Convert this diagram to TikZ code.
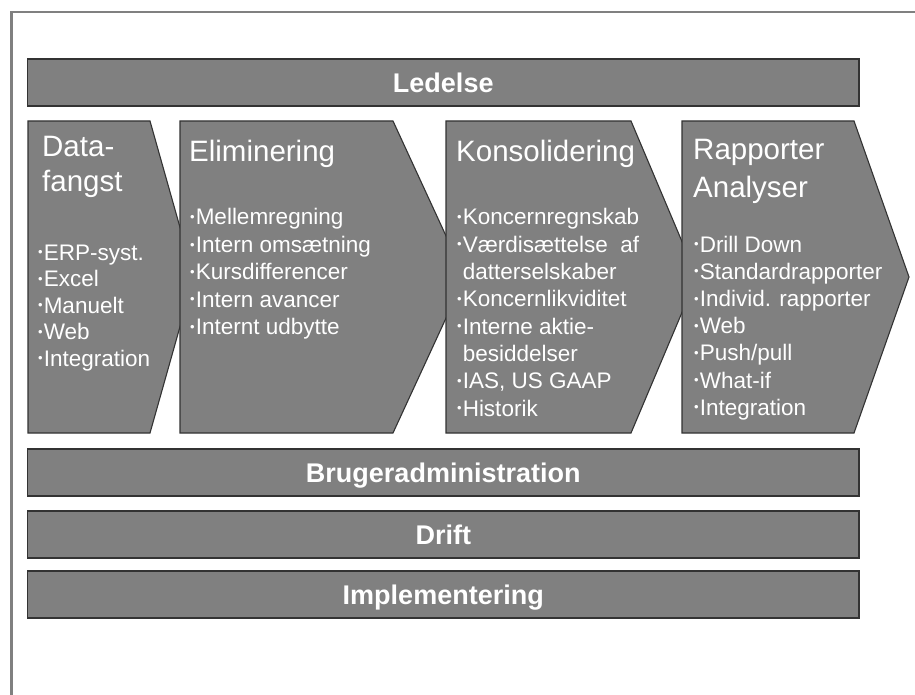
\documentclass[tikz,border=0pt]{standalone}
\usepackage{fontspec}
\setmainfont{Liberation Sans}
\definecolor{boxgray}{HTML}{808080}
\definecolor{edgegray}{HTML}{333333}
\definecolor{framegray}{HTML}{808080}
\newcommand{\bul}{\raisebox{3.4pt}{\fontsize{13pt}{13pt}\selectfont\symbol{"2022}}\hspace{1pt}}
\newcommand{\nobul}{\phantom{\bul}}
\begin{document}
\begin{tikzpicture}[x=1pt,y=-1pt,
  box/.style={fill=boxgray, draw=edgegray, line width=1.1pt, line join=miter},
  bar/.style={box, rectangle, minimum width=831.5pt, minimum height=47pt, inner sep=0pt,
    text=white, text height=19.3pt, text depth=0pt, font=\fontsize{27}{27}\selectfont\bfseries},
  ttl/.style={anchor=base west, inner sep=0pt, text=white, font=\fontsize{29.5}{29.5}\selectfont},
  itm/.style={anchor=base west, inner sep=0pt, text=white, font=\fontsize{22.5}{22.5}\selectfont}]
\useasboundingbox (0,0) rectangle (915,695);
% frame
\draw[framegray, line width=2.3pt] (11.5,695) -- (11.5,12) -- (915,12);
% top bar
\node[bar] (ledelse) at (443.25,82.5) {Ledelse};
% chevron 1
\draw[box] (28,121) -- (150,121) -- (194,277) -- (150,433) -- (28,433) -- cycle;
\node[ttl] (t1a) at (42,156.5) {Data-};
\node[ttl] (t1b) at (42,192) {fangst};
\foreach \t [count=\i from 0] in {ERP-syst.,Excel,Manuelt,Web,Integration}
  \node[itm] (d\i) at (38,260+26.5*\i) {\bul\t};
% chevron 2
\draw[box] (180,121) -- (393,121) -- (465,277) -- (393,433) -- (180,433) -- cycle;
\node[ttl] (t2) at (189,161.5) {Eliminering};
\foreach \t [count=\i from 0] in {Mellemregning,Intern omsætning,Kursdifferencer,Intern avancer,Internt udbytte}
  \node[itm] (e\i) at (190,225+27.4*\i) {\bul\t};
% chevron 3
\draw[box] (446,121) -- (631,121) -- (697,277) -- (631,433) -- (446,433) -- cycle;
\node[ttl] (t3) at (456,161.5) {Konsolidering};
\foreach \t [count=\i from 0] in {\bul Koncernregnskab,\bul Værdisættelse\ \ af,\nobul datterselskaber,\bul Koncernlikviditet,\bul Interne aktie-,\nobul besiddelser,{\bul IAS, US GAAP},\bul Historik}
  \node[itm] (k\i) at (457,225+27.3*\i) {\t};
% chevron 4
\draw[box] (682,121) -- (854,121) -- (909,277) -- (854,433) -- (682,433) -- cycle;
\node[ttl] (t4a) at (693,160) {Rapporter};
\node[ttl] (t4b) at (693,197) {Analyser};
\foreach \t [count=\i from 0] in {Drill Down,Standardrapporter,Individ. rapporter,Web,Push/pull,What-if,Integration}
  \node[itm] (r\i) at (694,252+27.2*\i) {\bul\t};
% bottom bars
\node[bar] (bruger) at (443.25,472.5) {Brugeradministration};
\node[bar] (drift) at (443.25,534.5) {Drift};
\node[bar] (impl) at (443.25,594.5) {Implementering};
\end{tikzpicture}
\end{document}
